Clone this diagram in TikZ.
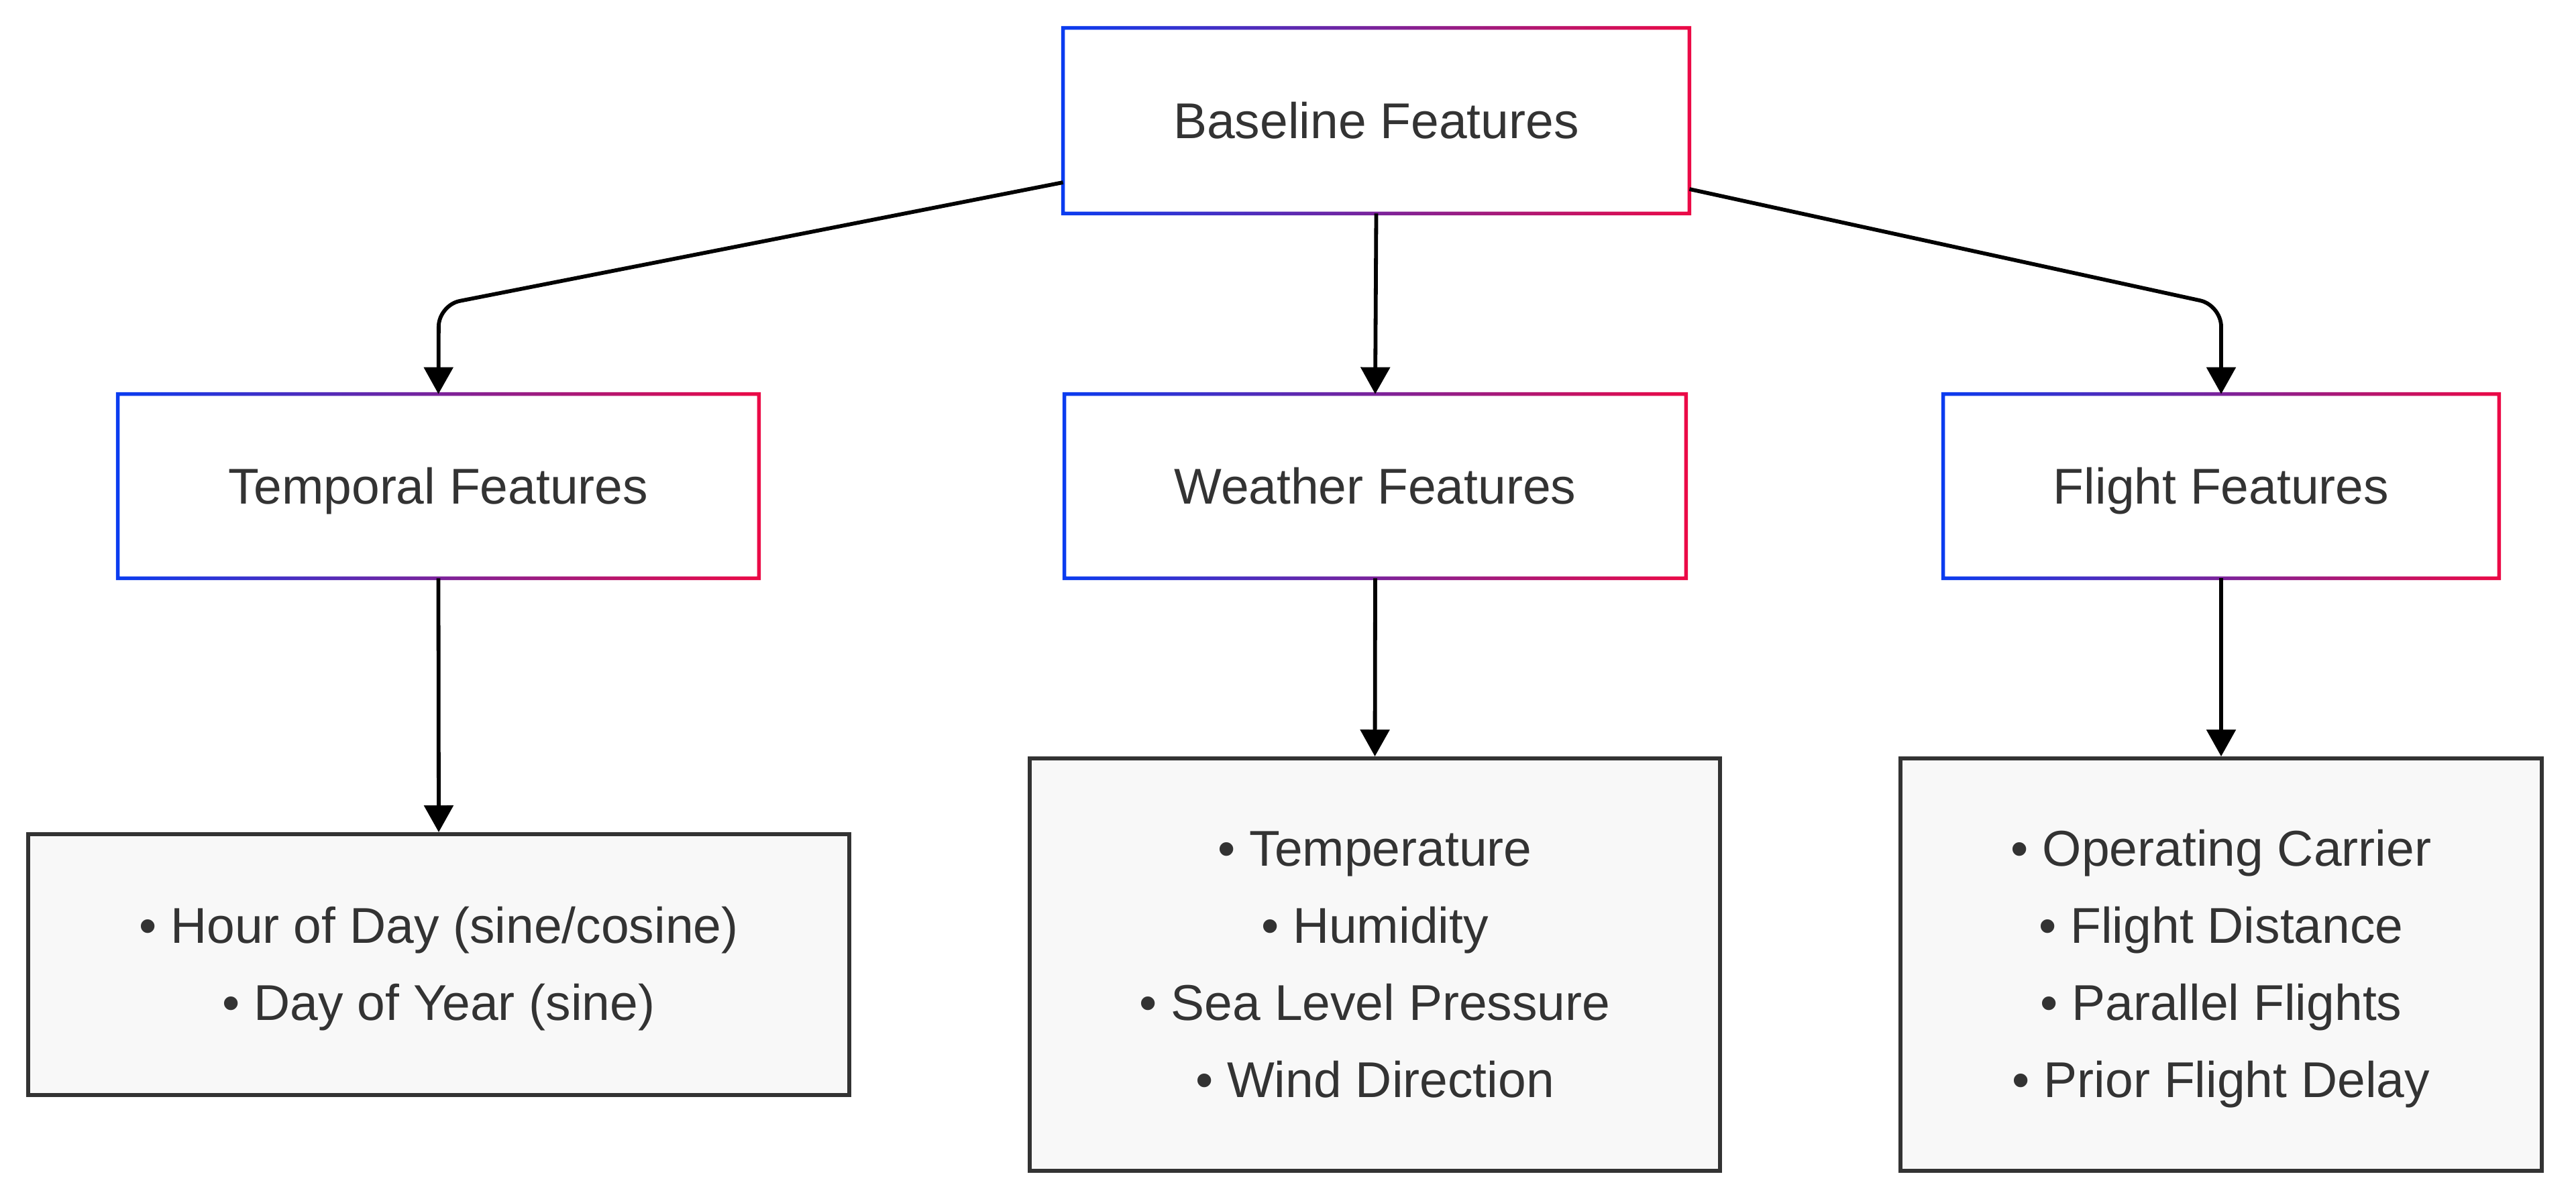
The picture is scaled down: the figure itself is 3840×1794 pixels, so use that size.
\documentclass[tikz,border=0pt]{standalone}
\usepackage{fontspec}
\setmainfont{Liberation Sans}
\usetikzlibrary{arrows.meta,backgrounds,calc}
\definecolor{gblue}{HTML}{0A3CF0}
\definecolor{gred}{HTML}{EC0A46}
\definecolor{txt}{HTML}{333333}
\definecolor{boxfill}{HTML}{F8F8F8}
\newcommand\ls{\rule[-8.8pt]{0pt}{42.6pt}}
\tikzset{
  basefont/.style={font=\fontsize{37.5pt}{57.5pt}\selectfont},
  catbox/.style={rectangle, fill=white, text=txt, basefont, inner sep=0pt, align=center,
    minimum height=137pt, text height=35.6pt, text depth=8.8pt},
  listbox/.style={rectangle, fill=boxfill, draw=txt, line width=3pt, text=txt, basefont, inner sep=0pt, align=center},
  conn/.style={draw=black, line width=2.9pt, -{Triangle[length=20pt,width=21.5pt]}, rounded corners=16pt}
}
\newcommand\gradborder[1]{%
  \shade[left color=gblue,right color=gred,even odd rule]
    ([shift={(-1.4pt,-1.4pt)}]#1.south west) rectangle ([shift={(1.4pt,1.4pt)}]#1.north east)
    ([shift={(1.4pt,1.4pt)}]#1.south west) rectangle ([shift={(-1.4pt,-1.4pt)}]#1.north east);}
\newcommand\softshadow[1]{%
  \foreach \i in {1,...,7}{%
    \pgfmathsetmacro\d{\i*1.5}%
    \fill[black,opacity=0.022,rounded corners=\d pt]
      ($(#1.south west)+(2pt-\d pt,-4pt-\d pt)$) rectangle ($(#1.north east)+(2pt+\d pt,-4pt+\d pt)$);
  }}
\begin{document}
\begin{tikzpicture}[x=0.5pt,y=-0.5pt]
\useasboundingbox[fill=white] (0,0) rectangle (3840,1794);

% category nodes
\node[catbox, minimum width=466.5pt, minimum height=138pt] (top) at (2051.5,180) {Baseline Features};
\node[catbox, minimum width=477.5pt] (tmp) at (653.5,725) {Temporal Features};
\node[catbox, minimum width=463pt] (wth) at (2050,725) {Weather Features};
\node[catbox, minimum width=414pt] (flt) at (3311,725) {Flight Features};

% list nodes
\node[listbox, minimum width=612pt, minimum height=194.5pt] (tmpl) at (654,1438.5)
  {\ls• Hour of Day (sine/cosine)\\\ls• Day of Year (sine)};
\node[listbox, minimum width=514.5pt, minimum height=307.5pt] (wthl) at (2049.5,1438.5)
  {\ls• Temperature\\\ls• Humidity\\\ls• Sea Level Pressure\\\ls• Wind Direction};
\node[listbox, minimum width=478pt, minimum height=307.5pt] (fltl) at (3311,1438.5)
  {\ls• Operating Carrier\\\ls• Flight Distance\\\ls• Parallel Flights\\\ls• Prior Flight Delay};

\gradborder{top}
\gradborder{tmp}
\gradborder{wth}
\gradborder{flt}

\begin{scope}[on background layer]
  \softshadow{top}\softshadow{tmp}\softshadow{wth}\softshadow{flt}
  \softshadow{tmpl}\softshadow{wthl}\softshadow{fltl}
\end{scope}

% connectors
\coordinate (k1) at (654,455);
\coordinate (k2) at (3311,455);
\draw[conn] ([yshift=-46pt]top.west) -- (k1) -- (tmp.north);
\draw[conn] ([yshift=-51pt]top.east) -- (k2) -- (flt.north);
\draw[conn] (top.south) -- (wth.north);
\draw[conn] (tmp.south) -- (tmpl.north);
\draw[conn] (wth.south) -- (wthl.north);
\draw[conn] (flt.south) -- (fltl.north);
\end{tikzpicture}
\end{document}
